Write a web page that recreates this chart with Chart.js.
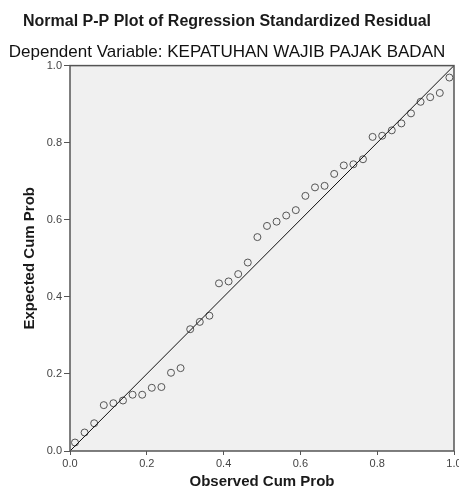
<!DOCTYPE html>
<html>
<head>
<meta charset="utf-8">
<script src="https://cdn.jsdelivr.net/npm/chart.js@4.4.1/dist/chart.umd.min.js"></script>
<style>
html, body { margin: 0; padding: 0; background: #fff; }
#wrap { width: 459px; height: 494px; }
</style>
</head>
<body>
<div id="wrap"><canvas id="myChart"></canvas></div>
<script>
var observed = [0.013, 0.038, 0.063, 0.088, 0.113, 0.138, 0.163, 0.188, 0.213, 0.238,
                0.263, 0.288, 0.313, 0.338, 0.363, 0.388, 0.413, 0.438, 0.463, 0.488,
                0.513, 0.538, 0.563, 0.588, 0.613, 0.638, 0.663, 0.688, 0.713, 0.738,
                0.763, 0.788, 0.813, 0.838, 0.863, 0.888, 0.913, 0.938, 0.963, 0.988];
var expected = [0.022, 0.048, 0.072, 0.119, 0.124, 0.131, 0.146, 0.146, 0.164, 0.166,
                0.203, 0.215, 0.316, 0.335, 0.351, 0.435, 0.440, 0.459, 0.489, 0.555,
                0.584, 0.595, 0.611, 0.625, 0.662, 0.684, 0.688, 0.719, 0.741, 0.744,
                0.757, 0.815, 0.818, 0.832, 0.850, 0.876, 0.906, 0.918, 0.929, 0.969];
var refX = [0, 1];
var refY = [0, 1];

var points = observed.map(function (v, i) { return { x: v, y: expected[i] }; });
var refLine = refX.map(function (v, i) { return { x: v, y: refY[i] }; });

// grey plot background and frame around the chart area
var plotFrame = {
  id: "plotFrame",
  beforeDraw: function (chart) {
    var a = chart.chartArea, c = chart.ctx;
    c.save();
    c.fillStyle = "#f0f0f0";
    c.fillRect(a.left, a.top, a.right - a.left, a.bottom - a.top);
    c.restore();
  },
  afterDraw: function (chart) {
    var a = chart.chartArea, c = chart.ctx;
    c.save();
    c.strokeStyle = "#555";
    c.lineWidth = 1.5;
    c.strokeRect(a.left, a.top, a.right - a.left, a.bottom - a.top);
    c.restore();
  }
};

var tickFont = { family: "Liberation Sans", size: 11 };

var ctx = document.getElementById("myChart");
var myChart = new Chart(ctx, {
  type: "scatter",
  data: {
    datasets: [
      {
        type: "line",
        data: refLine,
        borderColor: "#111",
        borderWidth: 1,
        pointRadius: 0,
        fill: false
      },
      {
        data: points,
        pointStyle: "circle",
        pointRadius: 3.5,
        backgroundColor: "transparent",
        borderColor: "#555",
        borderWidth: 1
      }
    ]
  },
  options: {
    responsive: true,
    maintainAspectRatio: false,
    animation: false,
    events: [],
    layout: { padding: { top: 0, left: 0, right: 5, bottom: 0 } },
    plugins: {
      legend: { display: false },
      tooltip: { enabled: false },
      title: {
        display: true,
        text: "Normal P-P Plot of Regression Standardized Residual",
        font: { family: "Liberation Sans", size: 16, weight: "bold" },
        color: "#1a1a1a",
        padding: { top: 12, bottom: 0 }
      },
      subtitle: {
        display: true,
        text: "Dependent Variable: KEPATUHAN WAJIB PAJAK BADAN",
        font: { family: "Liberation Sans", size: 17 },
        color: "#111",
        padding: { top: 11, bottom: 3 }
      }
    },
    scales: {
      x: {
        type: "linear",
        min: 0,
        max: 1,
        ticks: {
          stepSize: 0.2,
          font: tickFont,
          color: "#444",
          padding: 2,
          maxRotation: 0,
          callback: function (v) { return v.toFixed(1); }
        },
        grid: { drawOnChartArea: false, drawTicks: true, tickLength: 4, color: "#555" },
        border: { display: false },
        title: {
          display: true,
          text: "Observed Cum Prob",
          font: { family: "Liberation Sans", size: 15, weight: "bold" },
          color: "#1a1a1a",
          padding: { top: 0, bottom: 3 }
        },
        afterFit: function (scale) {
          scale.height = 43;
          scale.paddingRight = 0;
        }
      },
      y: {
        type: "linear",
        min: 0,
        max: 1,
        ticks: {
          stepSize: 0.2,
          font: tickFont,
          color: "#444",
          padding: 2,
          callback: function (v) { return v.toFixed(1); }
        },
        grid: { drawOnChartArea: false, drawTicks: true, tickLength: 6, color: "#555" },
        border: { display: false },
        title: {
          display: true,
          text: "Expected Cum Prob",
          font: { family: "Liberation Sans", size: 15, weight: "bold" },
          color: "#1a1a1a",
          padding: { top: 21, bottom: 0 }
        },
        afterFit: function (scale) {
          scale.width = 70;
        }
      }
    }
  },
  plugins: [plotFrame]
});
</script>
</body>
</html>
